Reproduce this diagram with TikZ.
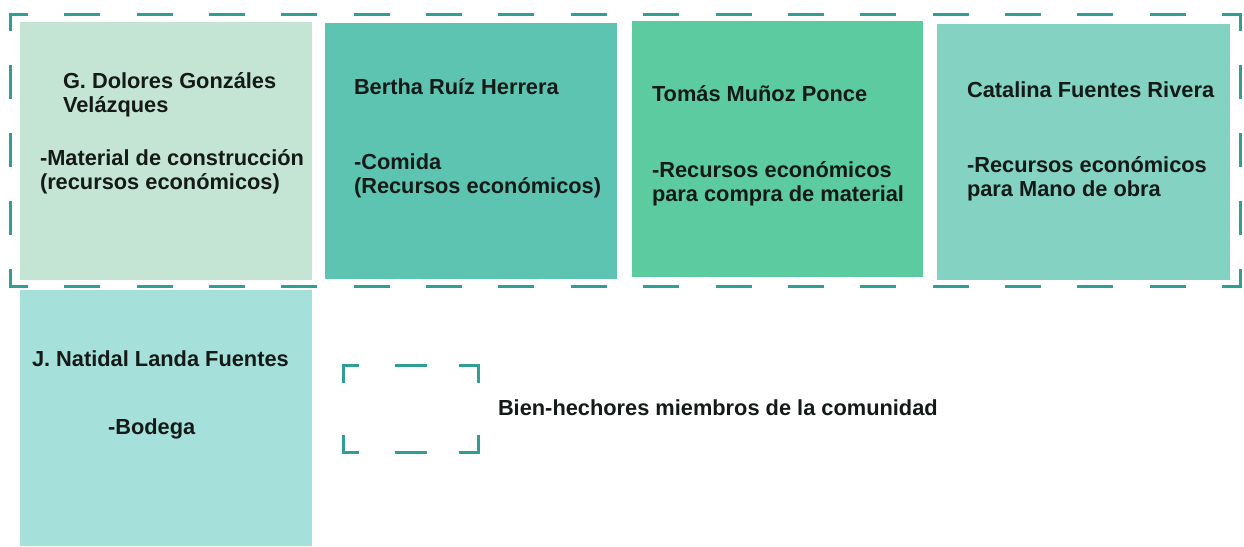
\documentclass[tikz,border=0pt]{standalone}
\usepackage{fontspec}
\setmainfont{Liberation Sans}
\usetikzlibrary{calc}
\definecolor{dashc}{HTML}{2F9E95}
\definecolor{cA}{HTML}{C4E5D3}
\definecolor{cB}{HTML}{5EC4B2}
\definecolor{cC}{HTML}{5CCB9F}
\definecolor{cD}{HTML}{84D2C1}
\definecolor{cE}{HTML}{A6E0DA}
\definecolor{txt}{HTML}{141A18}
\tikzset{
  card/.style={draw=none, inner sep=0pt, outer sep=0pt, anchor=north west, rectangle},
  lbl/.style={inner sep=0pt, outer sep=0pt, anchor=base west, text=txt,
    font=\fontsize{21.8}{25}\selectfont\bfseries},
  hside/.style={draw=dashc, line width=3pt, line cap=rect,
    dash pattern=on 33pt off 39.35pt, dash phase=16.5pt},
  vside/.style={draw=dashc, line width=3pt, line cap=rect,
    dash pattern=on 31pt off 37pt, dash phase=15.5pt},
  legline/.style={draw=dashc, line width=3pt, line cap=butt, line join=miter}
}
\begin{document}
\begin{tikzpicture}[x=1pt,y=-1pt]
\useasboundingbox (0,0) rectangle (1244,546);
% cards
\node[card, fill=cA, minimum width=292pt, minimum height=258pt] (b1) at (20,22) {};
\node[card, fill=cB, minimum width=292pt, minimum height=256pt] (b2) at (325,23) {};
\node[card, fill=cC, minimum width=291pt, minimum height=256pt] (b3) at (632,21) {};
\node[card, fill=cD, minimum width=293pt, minimum height=256pt] (b4) at (937,24) {};
\node[card, fill=cE, minimum width=292pt, minimum height=256pt] (b5) at (20,290) {};
% outer dashed frame
\coordinate (tl) at (10,14);
\coordinate (tr) at (1240,14);
\coordinate (bl) at (10,286);
\coordinate (br) at (1240,286);
\draw[hside] (tl) -- (tr);
\draw[hside] (bl) -- (br);
\draw[vside] (tl) -- (bl);
\draw[vside] (tr) -- (br);
% texts
\node[lbl] (t1a) at (63,88) {G. Dolores Gonzáles};
\node[lbl] (t1b) at (63,112) {Velázques};
\node[lbl] (t1c) at (40,165) {-Material de construcción};
\node[lbl] (t1d) at (40,189) {(recursos económicos)};
\node[lbl] (t2a) at (354,94) {Bertha Ruíz Herrera};
\node[lbl] (t2b) at (354,169) {-Comida};
\node[lbl] (t2c) at (354,193) {(Recursos económicos)};
\node[lbl] (t3a) at (652,101) {Tomás Muñoz Ponce};
\node[lbl] (t3b) at (652,177) {-Recursos económicos};
\node[lbl] (t3c) at (652,201) {para compra de material};
\node[lbl] (t4a) at (967,97) {Catalina Fuentes Rivera};
\node[lbl] (t4b) at (967,172) {-Recursos económicos};
\node[lbl] (t4c) at (967,196) {para Mano de obra};
\node[lbl] (t5a) at (32,366) {J. Natidal Landa Fuentes};
\node[lbl] (t5b) at (108,434) {-Bodega};
% legend
\coordinate (L1) at (343,365);
\coordinate (L2) at (478,365);
\coordinate (L3) at (343,452);
\coordinate (L4) at (478,452);
\draw[legline] ($(L1)+(0,18)$) -- (L1) -- ($(L1)+(16,0)$);
\draw[legline] ($(L2)+(0,18)$) -- (L2) -- ($(L2)+(-19,0)$);
\draw[legline] ($(L3)+(0,-17)$) -- (L3) -- ($(L3)+(16,0)$);
\draw[legline] ($(L4)+(0,-17)$) -- (L4) -- ($(L4)+(-19,0)$);
\draw[legline] (395,365) -- (427,365);
\draw[legline] (395,452) -- (427,452);
\node[lbl] (leg) at (498,415) {Bien-hechores miembros de la comunidad};
\end{tikzpicture}
\end{document}
